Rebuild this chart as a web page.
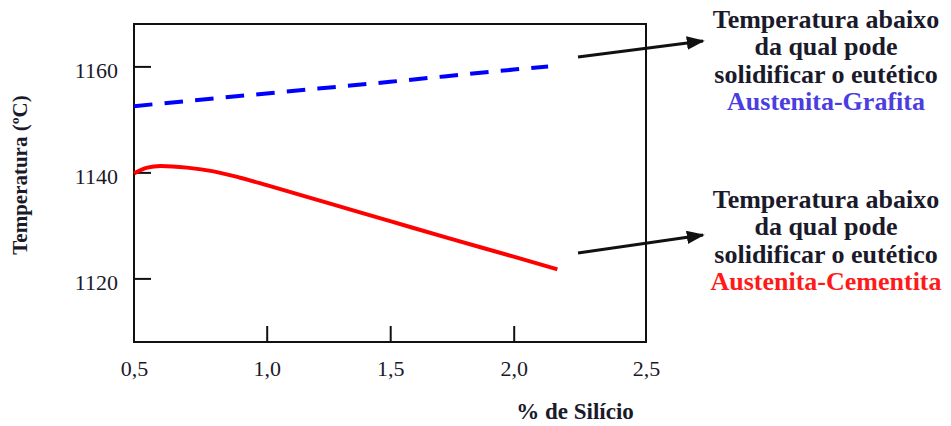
<!DOCTYPE html>
<html>
<head>
<meta charset="utf-8">
<script src="https://cdn.jsdelivr.net/npm/d3@7"></script>
<style>
  html, body { margin: 0; padding: 0; background: #fff; }
</style>
</head>
<body>
<div id="chart"></div>
<script>
// data
const siTicks = [0.5, 1.0, 1.5, 2.0, 2.5];
const siTickLabels = ["0,5", "1,0", "1,5", "2,0", "2,5"];
const tempTicks = [1120, 1140, 1160];

// Austenita-Grafita (blue, dashed)
const grafitaSi = [0.5, 1.0, 1.5, 2.0, 2.13];
const grafitaT = [1152.5, 1154.9, 1157.1, 1159.4, 1160.0];

// Austenita-Cementita (red)
const cementitaSi = [0.5, 0.55, 0.6, 0.7, 0.8, 0.9, 1.0, 1.25, 1.5, 1.75, 2.0, 2.165];
const cementitaT = [1139.8, 1140.9, 1141.2, 1140.9, 1140.2, 1139.0, 1137.6, 1134.2, 1130.8, 1127.4, 1124.1, 1121.7];

const noteLines = ["Temperatura abaixo", "da qual pode", "solidificar o eutético"];

const width = 951,
  height = 426,
  serif = '"Liberation Serif", "Times New Roman", serif',
  ink = "#1a1a2a";

const svg = d3
  .select("#chart")
  .append("svg")
  .attr("width", width)
  .attr("height", height);

// the original axis is not quite evenly spaced
const x = d3
  .scaleLinear()
  .domain([0.5, 1.0, 2.0, 2.5])
  .range([134, 266.7, 513.7, 646]);

const y = d3
  .scaleLinear()
  .domain([1108, 1168])
  .range([342, 24]);

// frame
svg
  .append("rect")
  .attr("x", x(0.5))
  .attr("y", y(1168))
  .attr("width", x(2.5) - x(0.5))
  .attr("height", y(1108) - y(1168))
  .attr("fill", "none")
  .attr("stroke", "#111")
  .attr("stroke-width", 2);

// inner ticks
const xAxis = svg
  .append("g")
  .attr("transform", `translate(0,${y(1108)})`)
  .call(
    d3
      .axisBottom(x)
      .tickValues(siTicks)
      .tickSizeInner(-16)
      .tickSizeOuter(0)
      .tickPadding(18)
      .tickFormat((d, i) => siTickLabels[i])
  );
xAxis.select(".domain").remove();
xAxis.selectAll("line").attr("stroke", "#111").attr("stroke-width", 2);
xAxis.selectAll(".tick").filter(d => d === 0.5 || d === 2.5).select("line").remove();
xAxis
  .selectAll("text")
  .style("font-family", serif)
  .style("font-size", "22px")
  .attr("fill", ink);

const yAxis = svg
  .append("g")
  .attr("transform", `translate(${x(0.5)},0)`)
  .call(
    d3
      .axisLeft(y)
      .tickValues(tempTicks)
      .tickSizeInner(-17)
      .tickSizeOuter(0)
      .tickPadding(16)
      .tickFormat(d3.format("d"))
  );
yAxis.select(".domain").remove();
yAxis.selectAll("line").attr("stroke", "#111").attr("stroke-width", 2);
yAxis
  .selectAll("text")
  .style("font-family", serif)
  .style("font-size", "22px")
  .attr("fill", ink)
  .attr("dy", "0.5em");

// curves
const line = d3
  .line()
  .x(d => x(d[0]))
  .y(d => y(d[1]))
  .curve(d3.curveMonotoneX);

svg
  .append("path")
  .datum(d3.zip(grafitaSi, grafitaT))
  .attr("d", line)
  .attr("fill", "none")
  .attr("stroke", "#0000ff")
  .attr("stroke-width", 4)
  .attr("stroke-dasharray", "18.5,12.2");

svg
  .append("path")
  .datum(d3.zip(cementitaSi, cementitaT))
  .attr("d", line)
  .attr("fill", "none")
  .attr("stroke", "#ff0000")
  .attr("stroke-width", 4);

// axis titles
svg
  .append("text")
  .attr("transform", "translate(27,175) rotate(-90)")
  .attr("text-anchor", "middle")
  .style("font-family", serif)
  .style("font-size", "21px")
  .style("font-weight", "bold")
  .attr("fill", ink)
  .text("Temperatura (ºC)");

svg
  .append("text")
  .attr("x", 575)
  .attr("y", 419)
  .attr("text-anchor", "middle")
  .style("font-family", serif)
  .style("font-size", "23px")
  .style("font-weight", "bold")
  .attr("fill", ink)
  .text("% de Silício");

// arrows
svg
  .append("defs")
  .append("marker")
  .attr("id", "head")
  .attr("viewBox", "0 0 10 10")
  .attr("refX", 9)
  .attr("refY", 5)
  .attr("markerWidth", 6)
  .attr("markerHeight", 4.5)
  .attr("markerUnits", "strokeWidth")
  .attr("orient", "auto")
  .attr("preserveAspectRatio", "none")
  .append("path")
  .attr("d", "M0,0L10,5L0,10Z")
  .attr("fill", "#111");

const notes = [
  { from: [578, 57], to: [703, 41], top: 28, name: "Austenita-Grafita", color: "#4b3de0" },
  { from: [578, 253], to: [703, 235], top: 208, name: "Austenita-Cementita", color: "#ff1a1a" }
];

notes.forEach(n => {
  svg
    .append("line")
    .attr("x1", n.from[0])
    .attr("y1", n.from[1])
    .attr("x2", n.to[0])
    .attr("y2", n.to[1])
    .attr("stroke", "#111")
    .attr("stroke-width", 3)
    .attr("marker-end", "url(#head)");

  const t = svg
    .append("text")
    .attr("x", 826)
    .attr("y", n.top)
    .attr("text-anchor", "middle")
    .style("font-family", serif)
    .style("font-size", "26px")
    .style("font-weight", "bold");
  noteLines.forEach((s, i) =>
    t
      .append("tspan")
      .attr("x", 826)
      .attr("dy", i === 0 ? 0 : 27.3)
      .attr("fill", ink)
      .text(s)
  );
  t.append("tspan")
    .attr("x", 826)
    .attr("dy", 27.3)
    .attr("fill", n.color)
    .text(n.name);
});
</script>
</body>
</html>
